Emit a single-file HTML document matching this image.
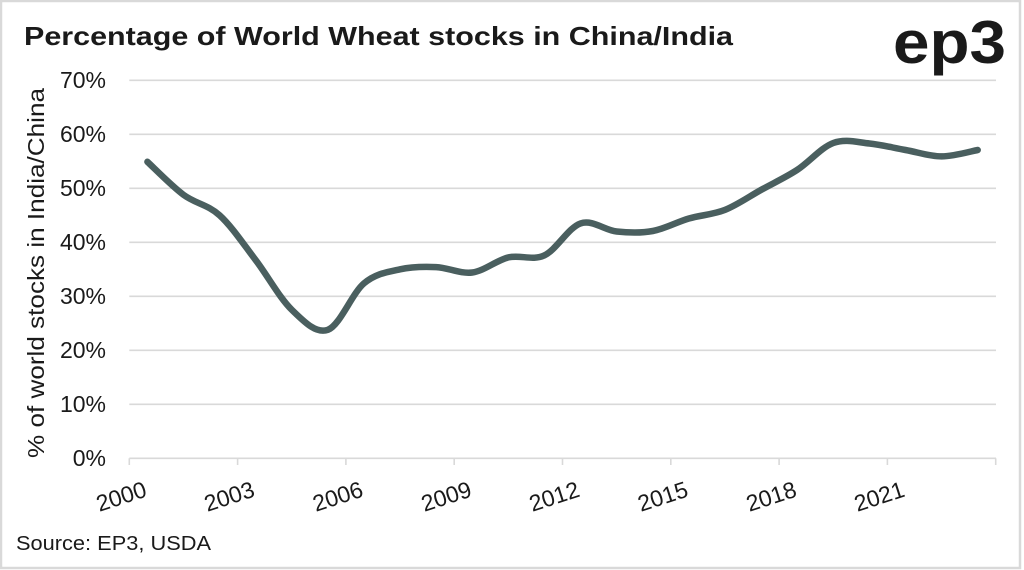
<!DOCTYPE html>
<html>
<head>
<meta charset="utf-8">
<style>
  html, body { margin: 0; padding: 0; background: #ffffff; }
  svg { display: block; }
  text { font-family: "Liberation Sans", "DejaVu Sans", sans-serif; fill: #1a1a1a; }
</style>
</head>
<body>
<svg width="1024" height="570" viewBox="0 0 1024 570" xmlns="http://www.w3.org/2000/svg">
  <rect x="0" y="0" width="1024" height="570" fill="#ffffff"/>
  <rect x="1" y="1" width="1019" height="567" fill="none" stroke="#d9d9d9" stroke-width="2.5"/>

  <!-- Title -->
  <text x="24" y="45" font-size="26" font-weight="bold" textLength="709" lengthAdjust="spacingAndGlyphs">Percentage of World Wheat stocks in China/India</text>

  <!-- Logo -->
  <text x="893" y="63" font-size="60" font-weight="bold" textLength="113" lengthAdjust="spacingAndGlyphs" fill="#1a1a1a">ep3</text>

  <!-- Gridlines -->
  <g stroke="#d9d9d9" stroke-width="1.6">
    <line x1="129.3" y1="80.3" x2="996" y2="80.3"/>
    <line x1="129.3" y1="134.3" x2="996" y2="134.3"/>
    <line x1="129.3" y1="188.3" x2="996" y2="188.3"/>
    <line x1="129.3" y1="242.3" x2="996" y2="242.3"/>
    <line x1="129.3" y1="296.3" x2="996" y2="296.3"/>
    <line x1="129.3" y1="350.3" x2="996" y2="350.3"/>
    <line x1="129.3" y1="404.3" x2="996" y2="404.3"/>
    <line x1="129.3" y1="458.3" x2="996" y2="458.3"/>
    <!-- ticks -->
    <line x1="129.3" y1="458.3" x2="129.3" y2="465"/>
    <line x1="237.6" y1="458.3" x2="237.6" y2="465"/>
    <line x1="345.9" y1="458.3" x2="345.9" y2="465"/>
    <line x1="454.2" y1="458.3" x2="454.2" y2="465"/>
    <line x1="562.5" y1="458.3" x2="562.5" y2="465"/>
    <line x1="670.8" y1="458.3" x2="670.8" y2="465"/>
    <line x1="779.1" y1="458.3" x2="779.1" y2="465"/>
    <line x1="887.4" y1="458.3" x2="887.4" y2="465"/>
    <line x1="995.7" y1="458.3" x2="995.7" y2="465"/>
  </g>

  <!-- Y labels -->
  <g font-size="23" text-anchor="end">
    <text x="106" y="88">70%</text>
    <text x="106" y="142">60%</text>
    <text x="106" y="196">50%</text>
    <text x="106" y="250">40%</text>
    <text x="106" y="304">30%</text>
    <text x="106" y="358">20%</text>
    <text x="106" y="412">10%</text>
    <text x="106" y="466">0%</text>
  </g>

  <!-- Y axis title -->
  <text x="0" y="0" font-size="23" text-anchor="middle" textLength="370" lengthAdjust="spacingAndGlyphs" transform="translate(44,273) rotate(-90)">% of world stocks in India/China</text>

  <!-- X labels -->
  <g font-size="23" text-anchor="end">
    <text x="148" y="496" transform="rotate(-18 148 496)">2000</text>
    <text x="256" y="496" transform="rotate(-18 256 496)">2003</text>
    <text x="364.5" y="496" transform="rotate(-18 364.5 496)">2006</text>
    <text x="473" y="496" transform="rotate(-18 473 496)">2009</text>
    <text x="581" y="496" transform="rotate(-18 581 496)">2012</text>
    <text x="689.5" y="496" transform="rotate(-18 689.5 496)">2015</text>
    <text x="798" y="496" transform="rotate(-18 798 496)">2018</text>
    <text x="906" y="496" transform="rotate(-18 906 496)">2021</text>
  </g>

  <!-- Series -->
  <path fill="none" stroke="#4a5f5f" stroke-width="6.5" stroke-linecap="round" stroke-linejoin="round"
    d="M147.4 161.8
       C153.4 167.3 171.5 185.9 183.5 194.8
       C195.5 203.7 207.6 204.4 219.6 215.3
       C231.6 226.2 243.7 244.4 255.7 260.1
       C267.7 275.9 279.8 298.2 291.8 309.8
       C303.8 321.4 315.9 334.2 327.9 329.8
       C339.9 325.4 352.0 293.4 364.0 283.3
       C376.0 273.2 388.1 272.0 400.1 269.3
       C412.1 266.6 424.2 266.6 436.2 267.1
       C448.2 267.6 460.3 274.1 472.3 272.5
       C484.3 270.9 496.4 260.3 508.4 257.4
       C520.4 254.5 532.5 261.0 544.5 255.3
       C556.5 249.6 568.6 227.4 580.6 223.4
       C592.6 219.4 604.7 230.2 616.7 231.5
       C628.7 232.8 640.8 233.2 652.8 231.0
       C664.8 228.8 676.9 222.0 688.9 218.5
       C700.9 215.0 713.0 214.7 725.0 209.9
       C737.0 205.1 749.1 196.6 761.1 189.9
       C773.1 183.2 785.2 177.7 797.2 169.9
       C809.2 162.1 821.3 147.4 833.3 143.0
       C845.3 138.6 857.4 142.3 869.4 143.5
       C881.4 144.7 893.5 147.9 905.5 150.0
       C917.5 152.1 929.6 156.4 941.6 156.4
       C953.6 156.4 971.7 151.1 977.7 150.0"/>

  <!-- Source -->
  <text x="16" y="550" font-size="20" textLength="195" lengthAdjust="spacingAndGlyphs">Source: EP3, USDA</text>
</svg>
</body>
</html>
